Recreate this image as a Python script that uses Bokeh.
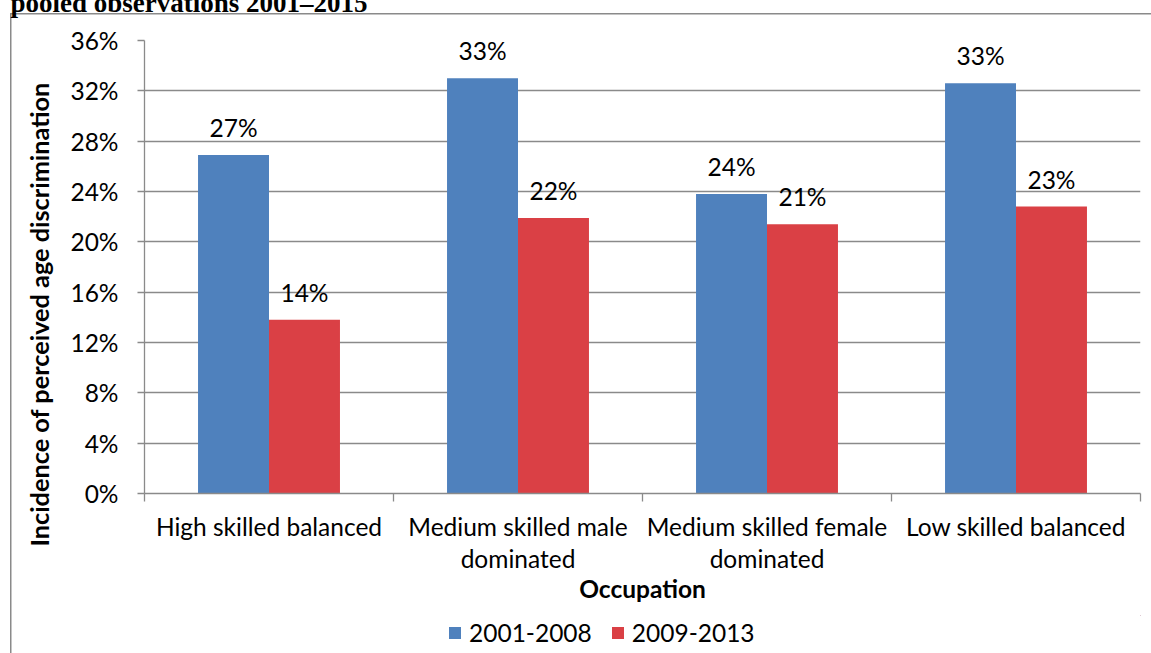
import numpy as np
from bokeh.plotting import figure
from bokeh.layouts import column
from bokeh.models import (ColumnDataSource, Range1d, FixedTicker, PrintfTickFormatter,
                          LabelSet, Legend, LegendItem, Label)
from bokeh.core.properties import value
from bokeh.transform import dodge
from bokeh.embed import file_html
from bokeh.resources import INLINE

# ---- data ----
categories = ["High skilled balanced", "Medium skilled male dominated",
              "Medium skilled female dominated", "Low skilled balanced"]
tick_labels = ["High skilled balanced", "Medium skilled male\ndominated",
               "Medium skilled female\ndominated", "Low skilled balanced"]
series_names = ["2001-2008", "2009-2013"]
values_2001_2008 = [26.9, 33.0, 23.8, 32.6]
values_2009_2013 = [13.8, 21.9, 21.4, 22.8]
y_ticks = [0, 4, 8, 12, 16, 20, 24, 28, 32, 36]
title_text = "pooled observations 2001\u20132015"
y_title = "Incidence of perceived age discrimination"
x_title = "Occupation"

BLUE = "#4F81BD"
RED = "#DA4045"
GRID = "#8A8A8A"
FONT = "Lato"
FS = "24.5px"

centers = list(np.arange(len(categories)) + 0.5)
bounds = list(np.arange(len(categories) + 1))

src = ColumnDataSource(dict(
    x=centers,
    a=values_2001_2008,
    b=values_2009_2013,
    la=[f"{round(v)}%" for v in values_2001_2008],
    lb=[f"{round(v)}%" for v in values_2009_2013],
))

W = 1151
H_MAIN, H_LEG = 615, 38
GRAD = f"linear-gradient({GRID}, {GRID})"

p = figure(width=W, height=H_MAIN, output_backend="svg", toolbar_location=None,
           x_range=Range1d(0, len(categories)), y_range=Range1d(0, 36),
           min_border_left=144, min_border_right=11, min_border_top=40,
           min_border_bottom=122)
p.outline_line_color = None
p.border_fill_alpha = 0
p.background_fill_alpha = 0
# outer chart-box border (left and top edges) drawn behind the transparent canvas
p.styles = {
    "background-color": "#ffffff",
    "background-image": f"{GRAD}, {GRAD}",
    "background-size": "1.5px 100%, 100% 1.5px",
    "background-position": "10px 13px, 10px 13px",
    "background-repeat": "no-repeat",
}
p.xgrid.grid_line_color = None
p.ygrid.grid_line_color = GRID
p.ygrid.grid_line_width = 1.3

bw = 0.285
r1 = p.vbar(x=dodge("x", -bw / 2, range=p.x_range), top="a", width=bw, source=src,
            fill_color=BLUE, line_color=None)
r2 = p.vbar(x=dodge("x", bw / 2, range=p.x_range), top="b", width=bw, source=src,
            fill_color=RED, line_color=None)

for col, lab, off in (("a", "la", -bw / 2), ("b", "lb", bw / 2)):
    p.add_layout(LabelSet(x=dodge("x", off, range=p.x_range), y=col, text=lab, source=src,
                          y_offset=18, text_align="center", text_baseline="alphabetic",
                          text_font=value(FONT), text_font_size=value(FS),
                          text_color="#000000"))

# y axis
yax = p.yaxis[0]
yax.ticker = FixedTicker(ticks=y_ticks, minor_ticks=[])
yax.formatter = PrintfTickFormatter(format="%d%%")
p.ygrid.ticker = yax.ticker
yax.axis_line_color = GRID
yax.axis_line_width = 1.3
yax.major_tick_line_color = GRID
yax.major_tick_line_width = 1.3
yax.major_tick_in = 0
yax.major_tick_out = 7
yax.major_label_standoff = 19
yax.major_label_text_font = FONT
yax.major_label_text_font_size = FS
yax.major_label_text_color = "#000000"
# the original title sits lower than the plot-area centre: pad its top end with em spaces
yax.axis_label = y_title + "\u2003" * 5
yax.axis_label_text_font = FONT
yax.axis_label_text_font_style = "bold"
yax.axis_label_text_font_size = "25.3px"
yax.axis_label_text_color = "#000000"
yax.axis_label_standoff = 13

# x axis
xax = p.xaxis[0]
xax.ticker = FixedTicker(ticks=centers, minor_ticks=bounds)
xax.major_label_overrides = {c: t for c, t in zip(centers, tick_labels)}
xax.axis_line_color = GRID
xax.axis_line_width = 1.3
xax.major_tick_line_color = None
xax.major_tick_in = 0
xax.major_tick_out = 0
xax.minor_tick_line_color = GRID
xax.minor_tick_line_width = 1.3
xax.minor_tick_in = 0
xax.minor_tick_out = 8
xax.major_label_standoff = 10
xax.major_label_text_font = FONT
xax.major_label_text_font_size = FS
xax.major_label_text_color = "#000000"
xax.major_label_text_line_height = 1.12
xax.axis_label = x_title
xax.axis_label_text_font = FONT
xax.axis_label_text_font_style = "bold"
xax.axis_label_text_font_size = FS
xax.axis_label_text_color = "#000000"
xax.axis_label_standoff = -2

p.add_layout(Label(x=10, y=2, x_units="canvas", y_units="canvas", text=title_text,
                   text_font="Liberation Serif", text_font_style="bold",
                   text_font_size="27px", text_baseline="alphabetic",
                   text_color="#000000"), "above")

# ---- legend strip below the chart ----
q = figure(width=W, height=H_LEG, output_backend="svg", toolbar_location=None,
           x_range=Range1d(0, 1), y_range=Range1d(0, 1),
           x_axis_type=None, y_axis_type=None,
           min_border_left=0, min_border_right=0, min_border_top=0, min_border_bottom=0)
q.outline_line_color = None
q.grid.visible = False
q.border_fill_alpha = 0
q.background_fill_alpha = 0
q.styles = {
    "background-color": "#ffffff",
    "background-image": GRAD,
    "background-size": "1.5px 100%",
    "background-position": "10px 0px",
    "background-repeat": "no-repeat",
}
# zero-size proxy bars (same series, zero height & width) that only feed the legend swatches
k1 = q.vbar(x="x", top="a", bottom="a", width=0, source=src, fill_color=BLUE, line_color=None)
k2 = q.vbar(x="x", top="b", bottom="b", width=0, source=src, fill_color=RED, line_color=None)
legend = Legend(items=[LegendItem(label=series_names[0], renderers=[k1]),
                       LegendItem(label=series_names[1], renderers=[k2])],
                orientation="horizontal", location=(303, 6),
                glyph_width=15, glyph_height=15, label_standoff=7, spacing=18,
                padding=0, margin=0, border_line_color=None, background_fill_alpha=0,
                label_text_font=FONT, label_text_font_size=FS, label_text_color="#000000")
q.add_layout(legend, "center")

open("out.html", "w").write(file_html(column(p, q, spacing=0), INLINE))
